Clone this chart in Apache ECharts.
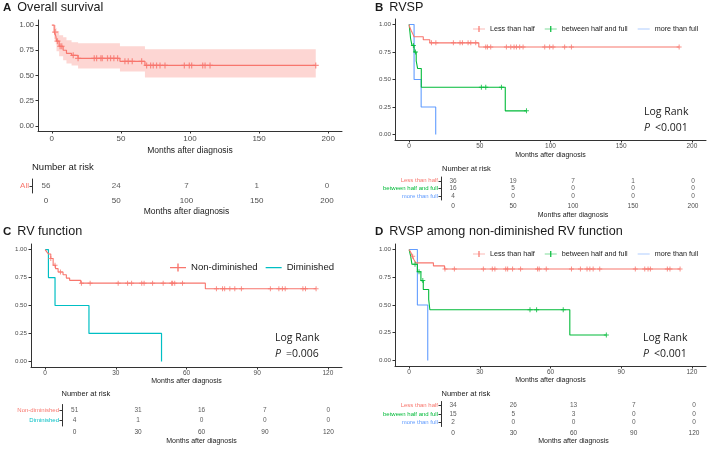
<!DOCTYPE html>
<html>
<head>
<meta charset="utf-8">
<script src="https://cdn.jsdelivr.net/npm/echarts@6/dist/echarts.min.js"></script>
<style>html,body{margin:0;padding:0;background:#fff}#chart{width:709px;height:450px}</style>
</head>
<body>
<div id="chart"></div>
<script>
// ---- A: overall survival ----
const osTime  = [0, 1.7, 2.9, 3.4, 5.3, 8.2, 10.6, 14.3, 19, 49.3, 67.4, 191];
const osSurv  = [1.00, 0.93, 0.89, 0.84, 0.79, 0.75, 0.72, 0.70, 0.67, 0.64, 0.60, 0.60];
const osUpper = [1.00, 1.00, 0.97, 0.94, 0.90, 0.88, 0.85, 0.83, 0.82, 0.79, 0.76, 0.76];
const osLower = [1.00, 0.86, 0.81, 0.74, 0.69, 0.65, 0.62, 0.60, 0.57, 0.54, 0.48, 0.48];
const osCens  = [2.4, 4.1, 6, 7.2, 15.5, 19, 30.7, 32.4, 35.5, 36.5, 40.3, 42.5, 44.9, 47.6, 52.9, 55.3, 58.2,
                 65, 68.6, 71.5, 73.4, 75.8, 78.3, 81.9, 95.9, 99.5, 101.2, 109.2, 110.9, 114.5, 191];

// ---- B: RVSP ----
const bLessT = [0, 0.5, 1.5, 2.5, 3.5, 10, 14.6, 49.3, 191];
const bLessS = [1, 0.972, 0.944, 0.917, 0.889, 0.861, 0.833, 0.795, 0.795];
const bLessCens = [15.8, 18.9, 31.3, 36, 37.7, 41.7, 43.6, 47.1, 54.2, 55.4, 57.7, 68.8, 71.9, 74.2, 75.9,
                   78.2, 80.6, 95.9, 99.4, 101.8, 110, 114.8, 191];
const bBetT = [0, 0.5, 1, 2, 3.5, 5, 6, 8.6, 68, 83];
const bBetS = [1, 0.94, 0.875, 0.81, 0.75, 0.67, 0.60, 0.43, 0.215, 0.215];
const bBetCens = [3, 4.5, 51.1, 54.2, 65.3, 83];
const bMoreT = [0, 3.5, 8.5, 18.8];
const bMoreS = [1, 0.5, 0.25, 0];

// ---- C: RV function ----
const cNonT = [0, 0.7, 1.5, 2.4, 3.4, 4.4, 5.5, 7.6, 9, 10.4, 15.1, 68, 115];
const cNonS = [1, 0.98, 0.96, 0.92, 0.86, 0.83, 0.80, 0.775, 0.745, 0.725, 0.70, 0.65, 0.65];
const cNonCens = [2.4, 4.2, 6.5, 15.4, 19.1, 31, 35, 36.7, 41, 42, 45.6, 50.1, 53.7, 54.1, 55, 58.3,
                  72.7, 75.3, 76.2, 78.4, 80.5, 83.3, 95.6, 99.2, 100.7, 101.9, 109.4, 110.5, 115];
const cDimT = [0, 1.4, 4.2, 18.6, 49.4];
const cDimS = [1, 0.75, 0.5, 0.25, 0];

// ---- D: RVSP among non-diminished ----
const dLessT = [0, 0.8, 1.4, 2, 2.8, 10.3, 15, 115];
const dLessS = [1, 0.97, 0.94, 0.91, 0.88, 0.853, 0.824, 0.824];
const dLessCens = [1.5, 15.2, 19.2, 31.5, 35.3, 36.4, 41, 41.8, 43.9, 47.3, 54.5, 55.2, 58.2, 68.9, 72.7,
                   75.5, 76.7, 78.1, 80.9, 96, 100, 101.4, 102.4, 109.6, 110.7, 115];
const dBetT = [0, 0.7, 1.2, 3.5, 5, 6, 8.3, 8.8, 68.2, 83.7];
const dBetS = [1, 0.933, 0.867, 0.80, 0.72, 0.64, 0.55, 0.457, 0.229, 0.229];
const dBetCens = [2.5, 4.2, 5.8, 51.3, 54.1, 65.4, 83.7];
const dMoreT = [0, 3.5, 7.9];
const dMoreS = [1, 0.5, 0];

// ---- number at risk ----
const riskTicks200 = [0, 50, 100, 150, 200];
const riskTicks120 = [0, 30, 60, 90, 120];
const riskA = [[56, 24, 7, 1, 0]];
const riskB = [[36, 19, 7, 1, 0], [16, 5, 0, 0, 0], [4, 0, 0, 0, 0]];
const riskC = [[51, 31, 16, 7, 0], [4, 1, 0, 0, 0]];
const riskD = [[34, 26, 13, 7, 0], [15, 5, 3, 0, 0], [2, 0, 0, 0, 0]];
const rowsA = ['All'];
const rowsB = ['Less than half', 'between half and full', 'more than full'];
const rowsC = ['Non-diminished', 'Diminished'];
const survTicks = [0, 0.25, 0.5, 0.75, 1];

const RED = '#F8766D', GREEN = '#00BA38', BLUE = '#619CFF', TEAL = '#00BFC4';
const PLUS = 'path://M4,0h2v4h4v2h-4v4h-2v-4h-4v-2h4z';
const AX = '#333', LBL = '#4d4d4d', TXT = '#1a1a1a';
const rowColor = {
  'All': RED, 'Less than half': RED, 'between half and full': GREEN, 'more than full': BLUE,
  'Non-diminished': RED, 'Diminished': TEAL
};

function survAt(t, s, x) {
  let v = s[0];
  for (let i = 0; i < t.length; i++) if (t[i] <= x) v = s[i];
  return v;
}

function stepLine(name, t, s, gi, color, w) {
  return { type: 'line', name: name, xAxisIndex: gi, yAxisIndex: gi, step: 'end', symbol: 'none',
    data: t.map((v, i) => [v, s[i]]), lineStyle: { color: color, width: w }, itemStyle: { color: color },
    z: 3, silent: true };
}
function cens(t, s, c, gi, color, size) {
  return { type: 'scatter', xAxisIndex: gi, yAxisIndex: gi, symbol: PLUS, symbolSize: size,
    data: c.map(x => [x, survAt(t, s, x)]), itemStyle: { color: color }, z: 4, silent: true };
}
// step-shaped confidence band, one polygon through the axis scales
function band(t, lo, hi, gi, color) {
  return { type: 'custom', xAxisIndex: gi, yAxisIndex: gi, silent: true, z: 1,
    data: t.map((v, i) => [v, lo[i], hi[i]]),
    renderItem: function (params, api) {
      if (params.dataIndex !== 0) return;
      const top = [], bot = [];
      for (let i = 0; i < t.length; i++) {
        const x1 = t[i], x2 = i < t.length - 1 ? t[i + 1] : t[i];
        top.push(api.coord([x1, hi[i]]), api.coord([x2, hi[i]]));
        bot.push(api.coord([x1, lo[i]]), api.coord([x2, lo[i]]));
      }
      return { type: 'polygon', shape: { points: top.concat(bot.reverse()) }, style: { fill: color } };
    } };
}
function riskSeries(gi, ticks, counts, fs) {
  const data = [];
  counts.forEach((row, ri) => row.forEach((n, j) => data.push([ticks[j], ri, n])));
  return { type: 'scatter', xAxisIndex: gi, yAxisIndex: gi, symbolSize: 1, data: data,
    itemStyle: { color: 'rgba(0,0,0,0)' }, silent: true,
    label: { show: true, position: 'inside', fontSize: fs, color: '#333', formatter: p => p.value[2] } };
}

function xAx(gi, min, max, ticks, fs, nameFs, gap, margin) {
  return { type: 'value', gridIndex: gi, min: min, max: max,
    name: 'Months after diagnosis', nameLocation: 'middle', nameGap: gap,
    nameTextStyle: { fontSize: nameFs, color: TXT },
    axisLine: { onZero: false, lineStyle: { color: AX, width: 1 } },
    axisTick: { length: 2.5, customValues: ticks, lineStyle: { color: AX } },
    axisLabel: { customValues: ticks, fontSize: fs, margin: margin, color: LBL },
    splitLine: { show: false } };
}
function ySurv(gi, fs) {
  return { type: 'value', gridIndex: gi, min: -0.05, max: 1.05,
    axisLine: { show: true, onZero: false, lineStyle: { color: AX, width: 1 } },
    axisTick: { show: true, length: 2.5, customValues: survTicks, lineStyle: { color: AX } },
    axisLabel: { customValues: survTicks, fontSize: fs, margin: 4, color: LBL, formatter: v => v.toFixed(2) },
    splitLine: { show: false } };
}
function yRisk(gi, rows, fs) {
  return { type: 'category', gridIndex: gi, data: rows, inverse: true,
    axisLine: { show: true, onZero: false, lineStyle: { color: AX } },
    axisTick: { show: true, length: 2.5, alignWithLabel: true, interval: 0, lineStyle: { color: AX } },
    axisLabel: { fontSize: fs, margin: 3, interval: 0, color: v => rowColor[v] || RED } };
}

const legLine24 = 'path://M0,5.3h24v1.4h-24z M0,0h0.1v0.1h-0.1z M0,11.9h0.1v0.1h-0.1z';
const legPlus24 = 'path://M0,5.3h24v1.4h-24z M10.8,0h2.4v12h-2.4z';
const legLine32 = 'path://M0,7h32v2.4h-32z M0,0h0.1v0.1h-0.1z M0,15.9h0.1v0.1h-0.1z';
const legPlus32 = 'path://M0,7h32v2.4h-32z M14.6,0h2.8v16h-2.8z';

const titleRich = {
  b: { fontSize: 11.5, fontWeight: 'bold', color: TXT },
  t: { fontSize: 12.6, fontWeight: 'normal', color: TXT, padding: [0, 0, 0, 6] }
};
const logRich = {
  a: { fontSize: 10.5, fontWeight: 'normal', color: TXT, fontFamily: 'Open Sans', lineHeight: 14 },
  p: { fontSize: 10.5, fontWeight: 'normal', color: TXT, fontFamily: 'Open Sans', fontStyle: 'italic', lineHeight: 14 }
};
function ttl(text, left, top) {
  return { text: text, left: left, top: top, padding: 0, textStyle: { fontWeight: 'normal', rich: titleRich } };
}
function nar(left, top, fs) {
  return { text: 'Number at risk', left: left, top: top, padding: 0,
    textStyle: { fontSize: fs, fontWeight: 'normal', color: TXT } };
}
function logRank(p, left, top) {
  return { text: '{a|Log Rank}\n{p|P} {a|' + p + '}', left: left, top: top, padding: 0,
    textStyle: { fontWeight: 'normal', rich: logRich } };
}

const option = {
  animation: false,
  backgroundColor: '#fff',
  textStyle: { fontFamily: 'Liberation Sans, Arial, sans-serif' },
  title: [
    ttl('{b|A}{t|Overall survival}', 3, 1.5),
    ttl('{b|B}{t|RVSP}', 375, 1.5),
    ttl('{b|C}{t|RV function}', 3, 225),
    ttl('{b|D}{t|RVSP among non-diminished RV function}', 375, 225),
    nar(32, 162, 9.5), nar(442, 164.5, 7.5), nar(61.5, 389.5, 7.5), nar(441.5, 389.5, 7.5),
    logRank('<0.001', 644, 105),
    logRank('=0.006', 275, 331),
    logRank('<0.001', 643, 331)
  ],
  legend: [
    { left: 473, top: 25.5, padding: 0, itemWidth: 12, itemHeight: 6, itemGap: 10,
      textStyle: { fontSize: 7.2, color: TXT }, selectedMode: false,
      data: [{ name: 'B-less', icon: legPlus24 }, { name: 'B-bet', icon: legPlus24 }, { name: 'B-more', icon: legLine24 }],
      formatter: n => ({ 'B-less': 'Less than half', 'B-bet': 'between half and full', 'B-more': 'more than full' })[n] },
    { left: 170, top: 262.5, padding: 0, itemWidth: 16, itemHeight: 8, itemGap: 8,
      textStyle: { fontSize: 9.6, color: TXT }, selectedMode: false,
      data: [{ name: 'Non-diminished', icon: legPlus32 }, { name: 'Diminished', icon: legLine32 }] },
    { left: 473, top: 250.5, padding: 0, itemWidth: 12, itemHeight: 6, itemGap: 10,
      textStyle: { fontSize: 7.2, color: TXT }, selectedMode: false,
      data: [{ name: 'D-less', icon: legPlus24 }, { name: 'D-bet', icon: legPlus24 }, { name: 'D-more', icon: legLine24 }],
      formatter: n => ({ 'D-less': 'Less than half', 'D-bet': 'between half and full', 'D-more': 'more than full' })[n] }
  ],
  grid: [
    { left: 38, top: 20, width: 304, height: 111 },
    { left: 32, top: 179, width: 309, height: 14 },
    { left: 395, top: 19, width: 311, height: 121 },
    { left: 441, top: 177, width: 264, height: 23 },
    { left: 31, top: 244, width: 311, height: 123 },
    { left: 62, top: 404.5, width: 279, height: 21.5 },
    { left: 395, top: 244, width: 311, height: 122 },
    { left: 441, top: 401.5, width: 265, height: 25 }
  ],
  xAxis: [
    xAx(0, -10, 210, riskTicks200, 8, 8.5, 15, 4),
    xAx(1, -10, 210, riskTicks200, 8, 8.5, 14.5, 4),
    xAx(2, -10, 210, riskTicks200, 6.5, 7, 11.5, 3),
    xAx(3, -10, 210, riskTicks200, 6.5, 7, 11.5, 3),
    xAx(4, -6, 126, riskTicks120, 6.5, 7, 11, 3),
    xAx(5, -6, 126, riskTicks120, 6.5, 7, 11.5, 3),
    xAx(6, -6, 126, riskTicks120, 6.5, 7, 11, 3),
    xAx(7, -6, 126, riskTicks120, 6.5, 7, 10.5, 3)
  ],
  yAxis: [
    ySurv(0, 7.5),
    yRisk(1, rowsA, 8),
    ySurv(2, 6.2),
    yRisk(3, rowsB, 6),
    ySurv(4, 6.2),
    yRisk(5, rowsC, 6),
    ySurv(6, 6.2),
    yRisk(7, rowsB, 6)
  ],
  series: [
    // A: confidence band + curve
    band(osTime, osLower, osUpper, 0, 'rgba(248,118,109,0.3)'),
    stepLine('All', osTime, osSurv, 0, RED, 1.2),
    cens(osTime, osSurv, osCens, 0, RED, 6),
    riskSeries(1, riskTicks200, riskA, 8),

    // B
    stepLine('B-more', bMoreT, bMoreS, 2, BLUE, 1.1),
    stepLine('B-bet', bBetT, bBetS, 2, GREEN, 1.1),
    stepLine('B-less', bLessT, bLessS, 2, RED, 1.1),
    cens(bBetT, bBetS, bBetCens, 2, GREEN, 5),
    cens(bLessT, bLessS, bLessCens, 2, RED, 5),
    riskSeries(3, riskTicks200, riskB, 6.5),

    // C
    stepLine('Diminished', cDimT, cDimS, 4, TEAL, 1.2),
    stepLine('Non-diminished', cNonT, cNonS, 4, RED, 1.1),
    cens(cNonT, cNonS, cNonCens, 4, RED, 5),
    riskSeries(5, riskTicks120, riskC, 6.5),

    // D
    stepLine('D-more', dMoreT, dMoreS, 6, BLUE, 1.1),
    stepLine('D-bet', dBetT, dBetS, 6, GREEN, 1.1),
    stepLine('D-less', dLessT, dLessS, 6, RED, 1.1),
    cens(dBetT, dBetS, dBetCens, 6, GREEN, 5),
    cens(dLessT, dLessS, dLessCens, 6, RED, 5),
    riskSeries(7, riskTicks120, riskD, 6.5)
  ]
};

const chart = echarts.init(document.getElementById('chart'));
chart.setOption(option);
</script>
</body>
</html>
